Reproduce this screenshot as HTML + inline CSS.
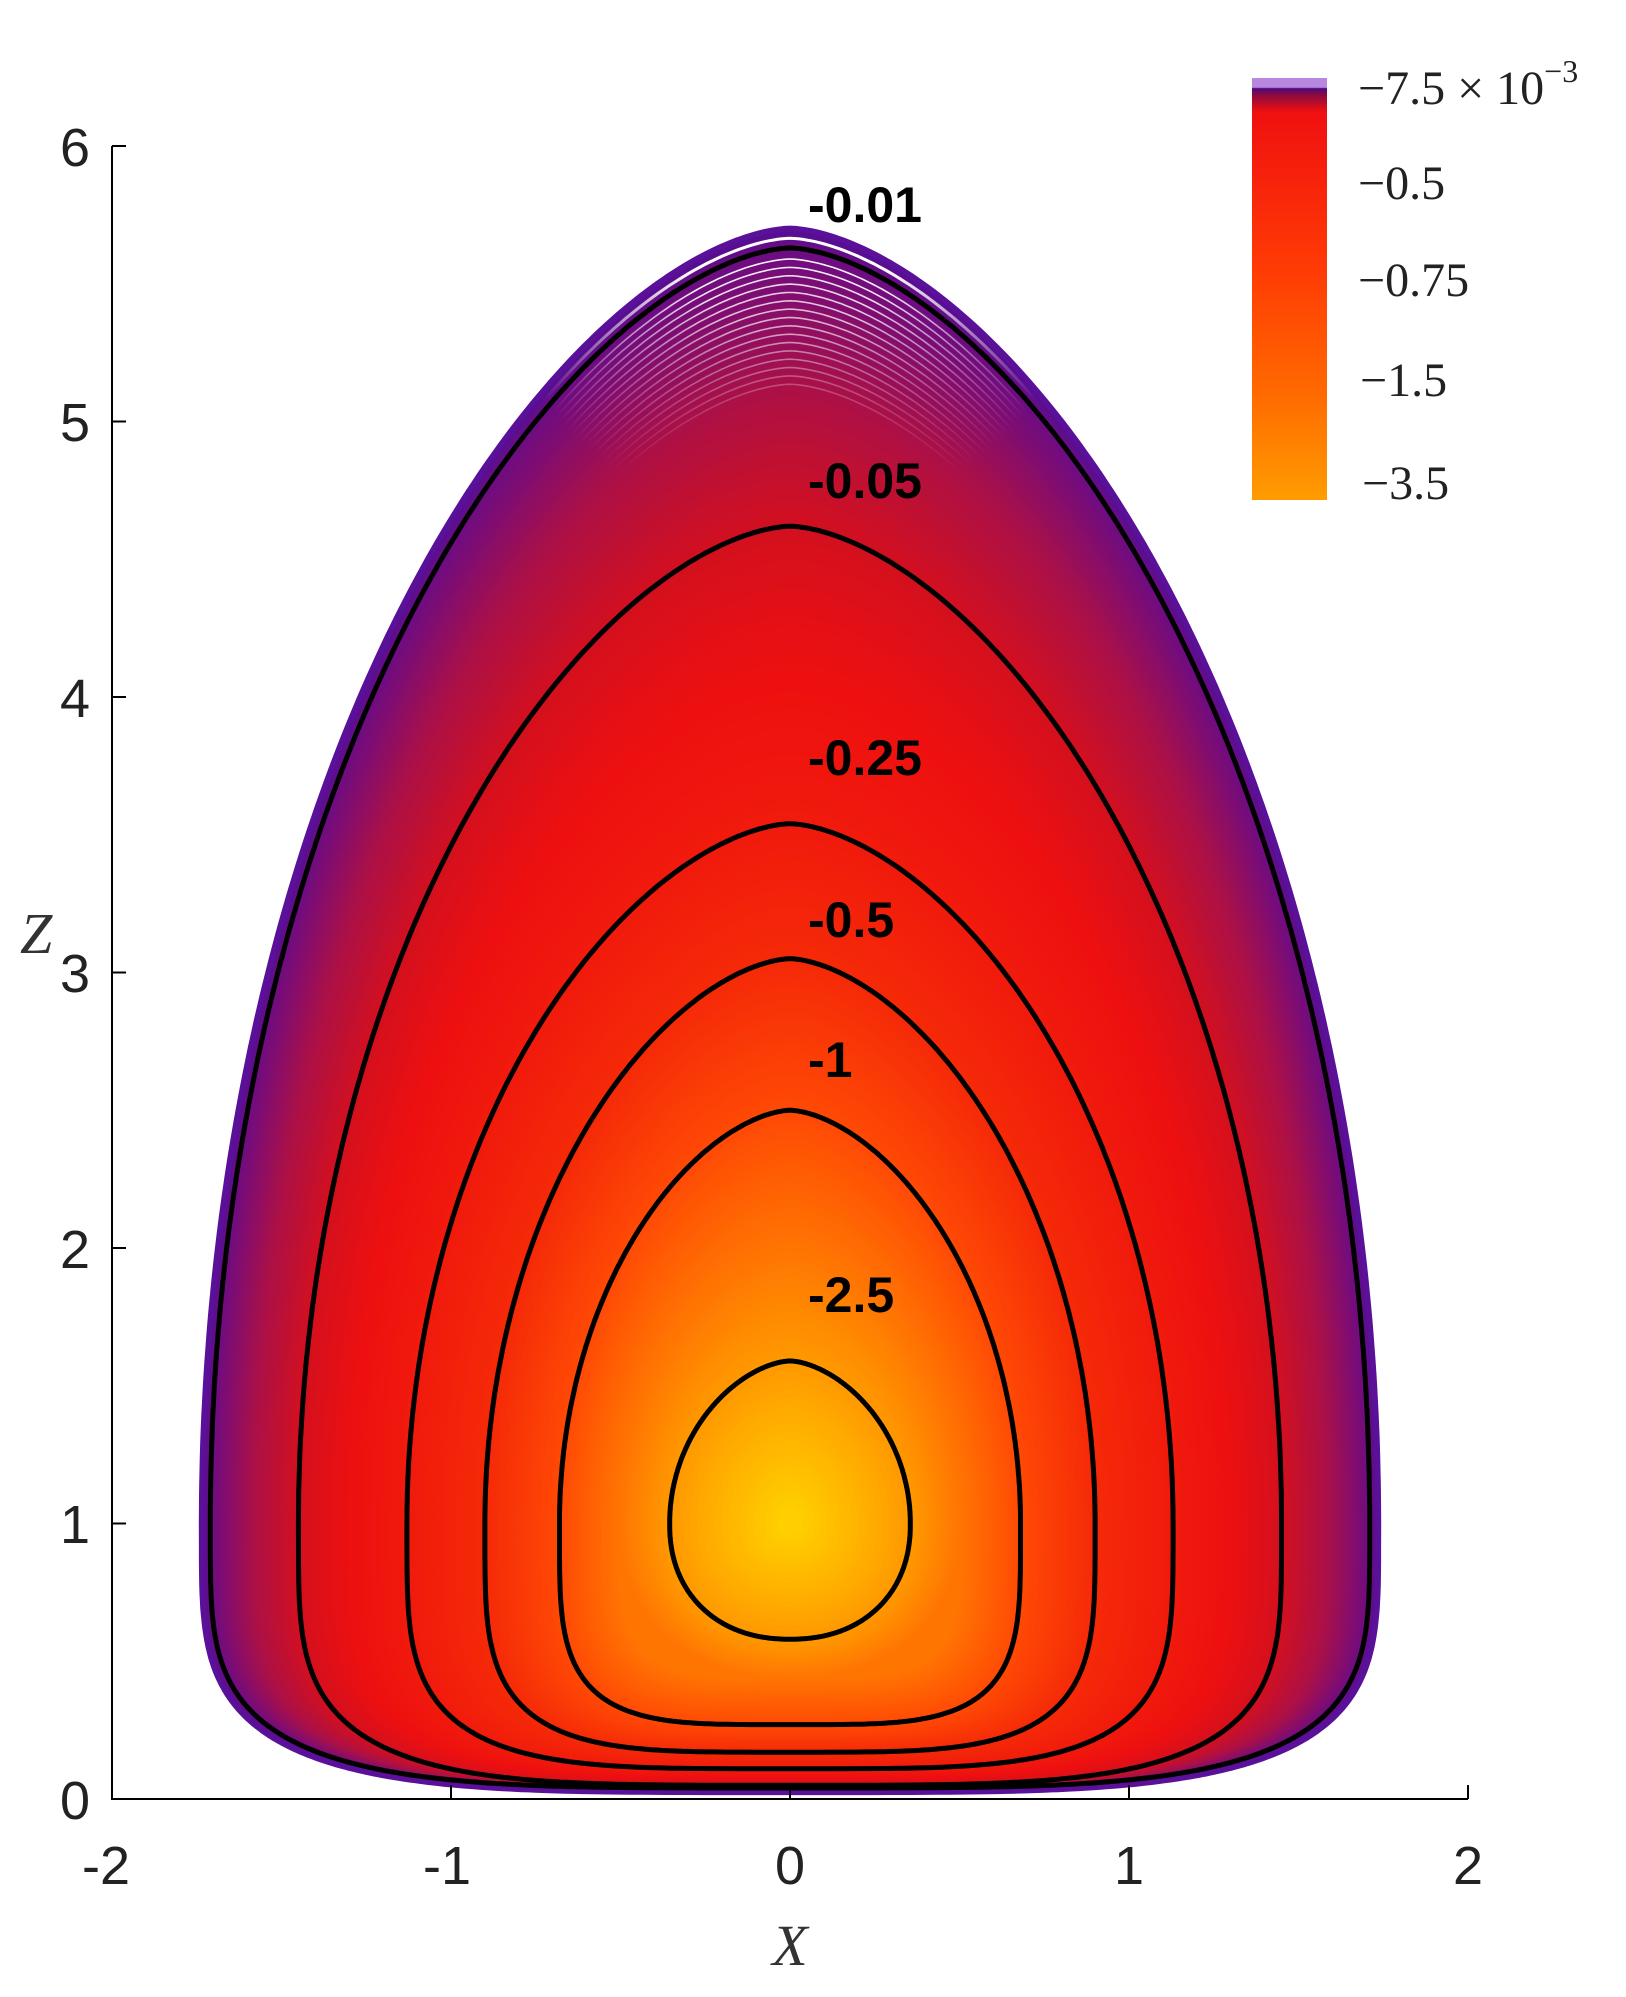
<!DOCTYPE html>
<html><head><meta charset="utf-8"><style>
html,body{margin:0;padding:0;background:#fff;}
svg{display:block;}
</style></head><body>
<svg id="s" width="1626" height="1997" viewBox="0 0 1626 1997" xmlns="http://www.w3.org/2000/svg">
<defs>
<linearGradient id="cb" x1="0" y1="0" x2="0" y2="1">
<stop offset="0" stop-color="#b888e0"/><stop offset="0.022" stop-color="#b888e0"/>
<stop offset="0.025" stop-color="#4a0a80"/><stop offset="0.04" stop-color="#8a0a40"/>
<stop offset="0.08" stop-color="#f01010"/><stop offset="0.45" stop-color="#ff3a05"/>
<stop offset="0.75" stop-color="#ff6a00"/><stop offset="1" stop-color="#ff9c00"/>
</linearGradient>
<radialGradient id="mg" cx="790" cy="230" r="300" gradientUnits="userSpaceOnUse">
<stop offset="0" stop-color="#fff"/><stop offset="0.35" stop-color="#fff"/><stop offset="1" stop-color="#000"/>
</radialGradient>
<mask id="topm"><rect x="0" y="0" width="1626" height="700" fill="url(#mg)"/></mask>
</defs>
<g id="fills"></g>
<g id="whites" mask="url(#topm)" fill="none" stroke="#fff" stroke-width="1.6"></g>
<g id="lines" fill="none" stroke="#000" stroke-width="5"></g>
<g font-family="Liberation Sans, sans-serif" font-weight="bold" font-size="50" fill="#000">
<text x="808" y="222">-0.01</text>
<text x="808" y="498">-0.05</text>
<text x="808" y="775">-0.25</text>
<text x="808" y="937">-0.5</text>
<text x="808" y="1077">-1</text>
<text x="808" y="1312">-2.5</text>
</g>
<g stroke="#000" stroke-width="2" fill="none">
<path d="M112 146 V1799 H1468"/>
<path d="M112 146 h14 M112 421.5 h14 M112 697 h14 M112 972.5 h14 M112 1248 h14 M112 1523.5 h14"/>
<path d="M451 1799 v-14 M790 1799 v-14 M1129 1799 v-14 M1468 1799 v-14"/>
</g>
<g font-family="Liberation Sans, sans-serif" font-size="54" fill="#222" text-anchor="end">
<text x="90" y="166">6</text><text x="90" y="441">5</text><text x="90" y="717">4</text>
<text x="90" y="992">3</text><text x="90" y="1268">2</text><text x="90" y="1543">1</text>
<text x="90" y="1819">0</text>
</g>
<g font-family="Liberation Sans, sans-serif" font-size="54" fill="#222" text-anchor="middle">
<text x="106" y="1884">-2</text><text x="447" y="1884">-1</text><text x="790" y="1884">0</text>
<text x="1129" y="1884">1</text><text x="1468" y="1884">2</text>
</g>
<g font-family="Liberation Serif, serif" font-style="italic" font-size="58" fill="#333">
<text x="20" y="953">Z</text>
<text x="790" y="1965" text-anchor="middle">X</text>
</g>
<rect x="1252" y="78" width="75" height="422" fill="url(#cb)"/>
<g font-family="Liberation Serif, serif" font-size="48" fill="#222">
<text x="1358" y="104">−7.5 × 10<tspan dy="-22" font-size="32">−3</tspan></text>
<text x="1358" y="199">−0.5</text>
<text x="1358" y="296">−0.75</text>
<text x="1360" y="396">−1.5</text>
<text x="1362" y="499">−3.5</text>
</g>
</svg>
<script>
var K=[[0,0.025,5.70,1.735],[0.05,0.04,5.63,1.71],[0.2,0.05,4.62,1.45],[0.4,0.11,3.54,1.13],[0.55,0.17,3.05,0.9],[0.7,0.27,2.5,0.68],[0.88,0.58,1.59,0.355],[1,1,1,0]];
var C=[[0,[80,15,150]],[0.05,[110,12,130]],[0.12,[170,16,72]],[0.2,[212,16,30]],[0.3,[238,16,16]],[0.55,[245,42,8]],[0.7,[255,74,5]],[0.88,[255,154,0]],[1,[255,212,0]]];
function interp(arr,s){for(var i=0;i<arr.length-1;i++){if(s<=arr[i+1][0]){var t=(s-arr[i][0])/(arr[i+1][0]-arr[i][0]);return [i,t];}}return [arr.length-2,1];}
function params(s){var r=interp(K,s),a=K[r[0]],b=K[r[0]+1],t=r[1];return [a[1]+(b[1]-a[1])*t,a[2]+(b[2]-a[2])*t,a[3]+(b[3]-a[3])*t];}
function col(s){var r=interp(C,s),a=C[r[0]][1],b=C[r[0]+1][1],t=r[1];return 'rgb('+[0,1,2].map(function(k){return Math.round(a[k]+(b[k]-a[k])*t)}).join(',')+')';}
function path(zb,zt,w,p){var zm=1,pts=[],N=150,i,z,x,ph;
 for(i=0;i<=N;i++){ph=i/N*Math.PI/2;var s=Math.pow(Math.cos(ph),2/p);x=w*Math.pow(Math.sin(ph),2/p);z=zm-s*(zm-zb);pts.push([x,z]);}
 for(i=1;i<=N;i++){ph=i/N*Math.PI/2;var t=Math.sin(ph);z=zm+(zt-zm)*t;x=w*Math.pow(Math.cos(ph),1.2);pts.push([x,z]);}
 var d='',L=pts.length;
 for(i=0;i<L;i++){d+=(i?'L':'M')+(790+pts[i][0]*339).toFixed(1)+' '+(1799-pts[i][1]*275.5).toFixed(1);}
 for(i=L-2;i>=0;i--){d+='L'+(790-pts[i][0]*339).toFixed(1)+' '+(1799-pts[i][1]*275.5).toFixed(1);}
 return d+'Z';}
function pw(s){return s<0.8?4:2.2;}
var NS='http://www.w3.org/2000/svg',F=document.getElementById('fills'),Lg=document.getElementById('lines'),W=document.getElementById('whites');
for(var i=0;i<160;i++){var s=i/160*0.995,p=params(s);var e=document.createElementNS(NS,'path');e.setAttribute('d',path(p[0],p[1],p[2],pw(s)));var c=col(s);e.setAttribute('fill',c);e.setAttribute('stroke',c);e.setAttribute('stroke-width','2');F.appendChild(e);}
var ow=params(0.025);var e0=document.createElementNS(NS,'path');e0.setAttribute('d',path(ow[0],ow[1],ow[2],4));e0.setAttribute('stroke-width','3');W.appendChild(e0);
for(var j=0;j<16;j++){var s=0.056+j*0.0045,p=params(s);var e=document.createElementNS(NS,'path');e.setAttribute('d',path(p[0],p[1],p[2],4));e.setAttribute('stroke-opacity',(0.95-j*0.04).toFixed(2));W.appendChild(e);}
var p0=params(0);var o=document.createElementNS(NS,'path');o.setAttribute('d',path(p0[0],p0[1],p0[2],4));o.setAttribute('stroke','#5a1098');o.setAttribute('stroke-width','6');o.setAttribute('fill','none');Lg.appendChild(o);
[0.05,0.2,0.4,0.55,0.7,0.88].forEach(function(s){var p=params(s);var e=document.createElementNS(NS,'path');e.setAttribute('d',path(p[0],p[1],p[2],pw(s)));Lg.appendChild(e);});
</script>
</body></html>
